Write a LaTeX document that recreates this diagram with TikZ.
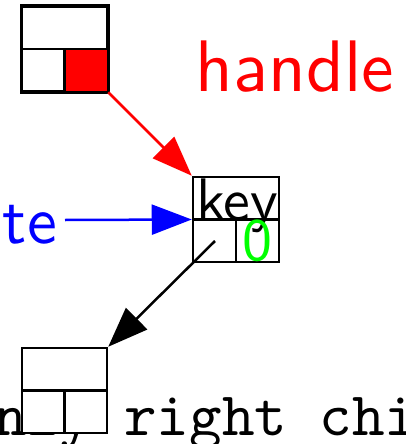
\documentclass[tikz,border=0pt]{standalone}
\usepackage{fontspec}
\newfontfamily\lmsten{lmsans10-regular.otf}
\newfontfamily\lmttten{lmmono10-regular.otf}
\usetikzlibrary{arrows.meta}
\definecolor{pureRed}{RGB}{255,0,0}
\definecolor{pureBlue}{RGB}{0,0,255}
\definecolor{pureGreen}{RGB}{0,255,0}
\tikzset{
  cellbox/.style={draw=black, line width=2.5pt, fill=white, inner sep=0pt, minimum width=85pt, minimum height=85pt},
  divider/.style={draw=black, line width=2.5pt},
  conn/.style={line width=2.5pt, -{Triangle[length=40pt,width=30pt]}},
  bigsans/.style={inner sep=0pt, font=\lmsten\fontsize{60}{70}\selectfont},
}
\begin{document}
\begin{tikzpicture}[x=1pt,y=-1pt]
\useasboundingbox (0,0) rectangle (405,444);
% bottom text (behind the lower box)
\node[anchor=base west, inner sep=0pt, font=\lmttten\fontsize{62}{70}\selectfont] (txt) at (-6,435) {nly right chi};
% top box
\node[cellbox, minimum height=84pt] (A) at (64.5,49) {};
\fill[pureRed] (A.center) rectangle (A.south east);
\draw[divider] (A.west) -- (A.east);
\draw[divider] (A.center) -- (A.south);
\draw[line width=2.5pt] (A.north west) rectangle (A.south east);
% key box
\node[cellbox, minimum width=86pt] (K) at (236,219.5) {};
\draw[divider] (K.west) -- (K.east);
\draw[divider] (K.center) -- (K.south);
\node[bigsans, anchor=base] (key) at (237,220) {key};
\node[bigsans, text=pureGreen] (zero) at (257.5,241) {0};
% bottom box
\node[cellbox] (B) at (64.5,390.5) {};
\draw[divider] (B.west) -- (B.east);
\draw[divider] (B.center) -- (B.south);
% labels
\node[inner sep=0pt, anchor=base, text=pureRed, font=\lmsten\fontsize{73}{80}\selectfont] (handle) at (295,92) {handle};
\node[inner sep=0pt, anchor=base east, text=pureBlue, font=\lmsten\fontsize{67}{75}\selectfont] (te) at (57,243) {te};
% connectors
\coordinate (u) at (65,220);
\coordinate (s) at (215,241);
\draw[conn, pureRed] (A.south east) -- (K.north west);
\draw[conn, pureBlue] (u) -- (K.west);
\draw[conn, black] (s) -- (B.north east);
\end{tikzpicture}
\end{document}
